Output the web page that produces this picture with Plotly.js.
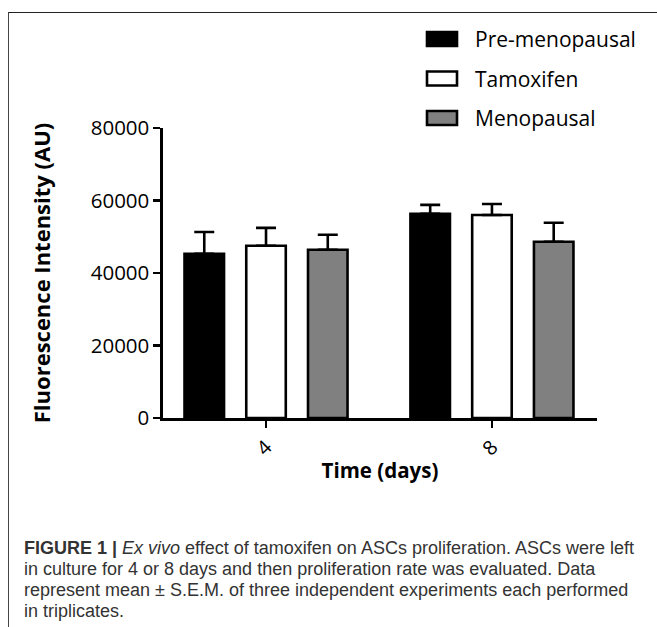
<!DOCTYPE html>
<html>
<head>
<meta charset="utf-8">
<script src="https://cdn.plot.ly/plotly-3.0.1.min.js"></script>
<style>
  html, body { margin: 0; padding: 0; background: #fff; }
  #wrap { position: relative; width: 657px; height: 627px; overflow: hidden; }
  #chart { position: absolute; left: 0; top: 0; width: 657px; height: 627px; }
  #frame { position: absolute; left: 8px; top: 12px; right: -2px; bottom: -2px;
           border-top: 1.5px solid #222; border-left: 1.5px solid #444; pointer-events: none; }
</style>
</head>
<body>
<div id="wrap">
  <div id="chart"></div>
  <div id="frame"></div>
</div>
<script>
// ---- data ----
const days = ['4', '8'];
const seriesNames = ['Pre-menopausal', 'Tamoxifen', 'Menopausal'];
const preMeno = [45300, 56300];
const preMenoErr = [6000, 2500];
const tamoxifen = [47500, 56000];
const tamoxifenErr = [4950, 3050];
const meno = [46400, 48600];
const menoErr = [4150, 5250];
const yTicks = [0, 20000, 40000, 60000, 80000];
const captionLines = [
  '<b>FIGURE 1 |</b> <i>Ex vivo</i> effect of tamoxifen on ASCs proliferation. ASCs were left',
  'in culture for 4 or 8 days and then proliferation rate was evaluated. Data',
  'represent mean ± S.E.M. of three independent experiments each performed',
  'in triplicates.'
];

// ---- styles ----
const fills = ['#000000', '#ffffff', '#808080'];
const values = [preMeno, tamoxifen, meno];
const errs = [preMenoErr, tamoxifenErr, menoErr];
const LW = 2.6;
const FONT = 'Open Sans, sans-serif';

const traces = values.map((v, i) => ({
  type: 'bar',
  name: seriesNames[i],
  x: days,
  y: v,
  marker: { color: fills[i], line: { color: '#000', width: LW } },
  error_y: {
    type: 'data', symmetric: false,
    array: errs[i], arrayminus: errs[i].map(() => 0),
    color: '#000', thickness: LW, width: 10
  },
  showlegend: false,
  hoverinfo: 'x+y'
}));

// plot area in pixels
const W = 657, H = 627;
const L = 163, R = 60, T = 128, B = 209;
const pw = W - L - R, ph = H - T - B;
const px = (x) => (x - L) / pw;      // pixel -> paper x
const py = (y) => (H - B - y) / ph;  // pixel -> paper y

// custom legend (rectangular swatches like the original)
const shapes = [];
const annotations = [];
const legX0 = 427, legX1 = 457, legTextX = 473, legY0 = 39, legStep = 39.5, swH = 14;
seriesNames.forEach((nm, i) => {
  const cy = legY0 + i * legStep;
  shapes.push({
    type: 'rect', xref: 'paper', yref: 'paper',
    x0: px(legX0), x1: px(legX1), y0: py(cy + swH / 2), y1: py(cy - swH / 2),
    fillcolor: fills[i], line: { color: '#000', width: LW }
  });
  annotations.push({
    xref: 'paper', yref: 'paper', x: px(legTextX), y: py(cy),
    xanchor: 'left', yanchor: 'middle', showarrow: false,
    text: nm, font: { family: FONT, size: 21, color: '#000' }
  });
});

// caption (one annotation per line to keep the original tight line spacing)
const capX = 22, capY0 = 548, capStep = 21;
captionLines.forEach((ln, i) => {
  annotations.push({
    xref: 'paper', yref: 'paper', x: px(capX), y: py(capY0 + i * capStep),
    xanchor: 'left', yanchor: 'middle', align: 'left', showarrow: false,
    text: ln,
    font: { family: 'Liberation Sans, Arial, sans-serif', size: 18, color: '#333' }
  });
});

const layout = {
  width: W, height: H,
  margin: { l: L, r: R, t: T, b: B, pad: 0 },
  paper_bgcolor: 'rgba(0,0,0,0)',
  plot_bgcolor: 'rgba(0,0,0,0)',
  barmode: 'group',
  bargap: 0.18,
  bargroupgap: 0.36,
  showlegend: false,
  font: { family: FONT, color: '#000' },
  xaxis: {
    type: 'category',
    range: [-0.456, 1.465],
    showline: true, linecolor: '#000', linewidth: LW,
    ticks: 'outside', ticklen: 7, tickwidth: LW, tickcolor: '#000',
    tickangle: -45,
    tickfont: { family: FONT, size: 20, color: '#000' },
    showgrid: false, zeroline: false,
    title: { text: '<b>Time (days)</b>', font: { family: FONT, size: 20.5, color: '#000' }, standoff: 4 }
  },
  yaxis: {
    range: [0, 80000],
    tickvals: yTicks,
    ticktext: yTicks.map(String),
    showline: true, linecolor: '#000', linewidth: LW,
    ticks: 'outside', ticklen: 7, tickwidth: LW, tickcolor: '#000',
    tickfont: { family: FONT, size: 20.5, color: '#000' },
    showgrid: false, zeroline: false,
    title: { text: '<b>Fluorescence Intensity (AU)</b>', font: { family: FONT, size: 22, color: '#000' }, standoff: 34 }
  },
  shapes: shapes,
  annotations: annotations
};

Plotly.newPlot('chart', traces, layout, { displayModeBar: false, staticPlot: true });
</script>
</body>
</html>
